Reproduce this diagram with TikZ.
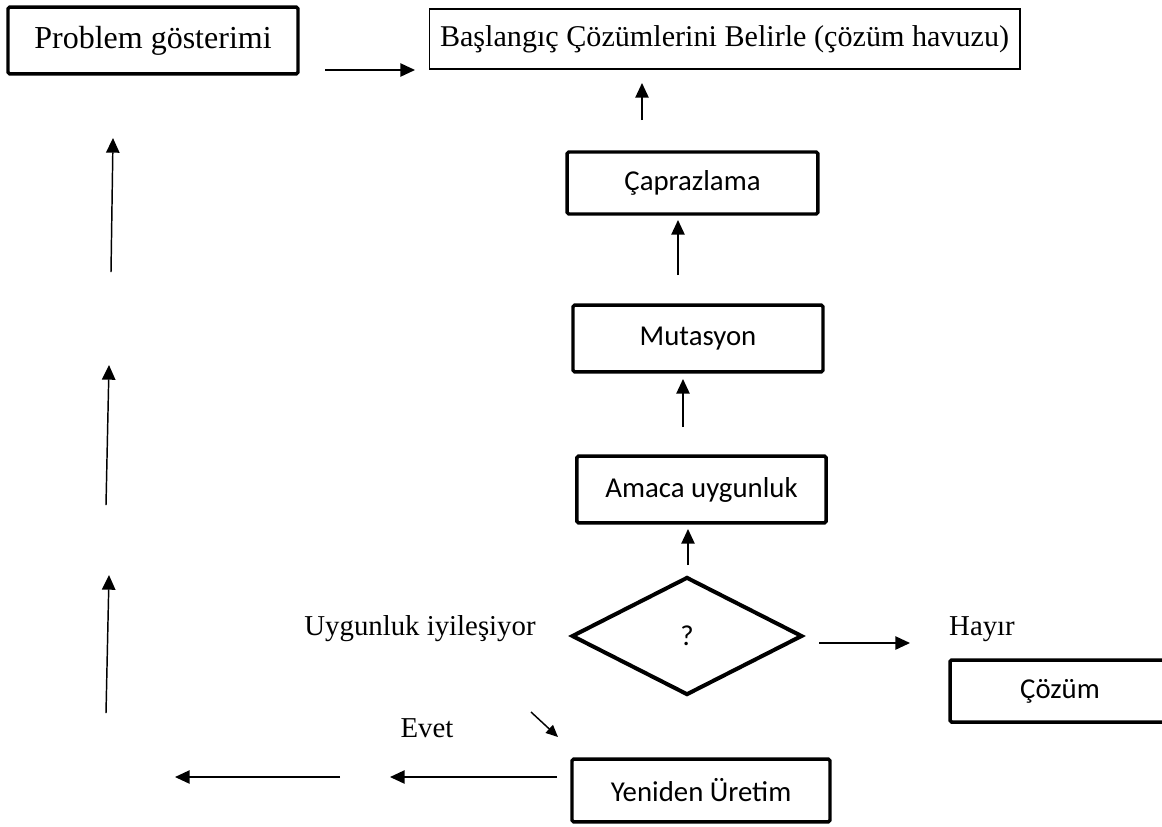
\documentclass[tikz,border=0pt]{standalone}
\usepackage{fontspec}
\setmainfont{Liberation Serif}
\newfontfamily\calibri{Carlito}
\usetikzlibrary{shapes.geometric,arrows.meta}

\begin{document}
\begin{tikzpicture}[x=0.75pt,y=0.75pt,yscale=-1,
  thickbox/.style={draw,line width=2.6pt,rounded corners=1.2pt,inner sep=0pt},
  thinbox/.style={draw,line width=1pt,inner sep=0pt},
  calibritext/.style={font=\calibri\fontsize{21.6}{26}\selectfont},
  label/.style={inner sep=0pt,anchor=base,font=\fontsize{21.6}{26}\selectfont},
  arr/.style={line width=1.1pt,-{Triangle[length=11pt,width=10pt]}}]
\clip (0,0) rectangle (1162,826);

%Shape: Rectangle
\node[thickbox,minimum width=217.5pt,minimum height=50pt,font=\fontsize{24}{28}\selectfont] (prob) at (153,40.5) {Problem gösterimi};
%Shape: Rectangle
\node[thinbox,minimum width=443pt,minimum height=45pt,font=\fontsize{22.6}{27}\selectfont] (init) at (724.5,39) {Başlangıç Çözümlerini Belirle (çözüm havuzu)};
%Shape: Rectangle
\node[thickbox,calibritext,minimum width=188pt,minimum height=46.5pt] (cross) at (692.5,183) {Çaprazlama};
%Shape: Rectangle
\node[thickbox,calibritext,minimum width=187.5pt,minimum height=50pt] (mut) at (698,338.5) {Mutasyon};
%Shape: Rectangle
\node[thickbox,calibritext,minimum width=187pt,minimum height=50pt] (fit) at (701.5,489.5) {Amaca uygunluk};
%Shape: Diamond
\node[diamond,draw,line width=3pt,inner sep=0pt,calibritext,minimum width=173pt,minimum height=88.5pt] (check) at (687,636) {?};
%Shape: Rectangle
\node[thickbox,calibritext,minimum width=165pt,minimum height=46.5pt] (sol) at (1060,691) {Çözüm};
%Shape: Rectangle
\node[thickbox,calibritext,minimum width=193.5pt,minimum height=47pt] (regen) at (701,790.5) {Yeniden Üretim};

% Text Node
\node[label] (better) at (420,635) {Uygunluk iyileşiyor};
% Text Node
\node[label] (yes) at (427,737) {Evet};
% Text Node
\node[label] (no) at (982,635) {Hayır};

%Arrow ends
\coordinate (p1) at (325,70);   \coordinate (p2) at (415,70);
\coordinate (c1) at (642,120);  \coordinate (c2) at (642,83);
\coordinate (m1) at (678,275);  \coordinate (m2) at (678,220);
\coordinate (f1) at (683,427);  \coordinate (f2) at (683,379);
\coordinate (q1) at (688,565);  \coordinate (q2) at (688,529);
\coordinate (h1) at (819,643);  \coordinate (h2) at (910,643);
\coordinate (d1) at (531,712);  \coordinate (d2) at (558,737);
\coordinate (b1) at (557,777);  \coordinate (b2) at (390,777);
\coordinate (b3) at (340,777);  \coordinate (b4) at (175,777);
\coordinate (l1) at (106,713);  \coordinate (l2) at (109,575);
\coordinate (l3) at (106,505);  \coordinate (l4) at (109,365);
\coordinate (l5) at (111,272);  \coordinate (l6) at (113,138);

%Straight Lines
\draw[arr] (p1) -- (p2);
\draw[arr] (c1) -- (c2);
\draw[arr] (m1) -- (m2);
\draw[arr] (f1) -- (f2);
\draw[arr] (q1) -- (q2);
\draw[arr] (h1) -- (h2);
\draw[line width=1.1pt,-{Triangle[length=9pt,width=8pt]}] (d1) -- (d2);
\draw[arr] (b1) -- (b2);
\draw[arr] (b3) -- (b4);
\draw[arr] (l1) -- (l2);
\draw[arr] (l3) -- (l4);
\draw[arr] (l5) -- (l6);

\end{tikzpicture}
\end{document}
